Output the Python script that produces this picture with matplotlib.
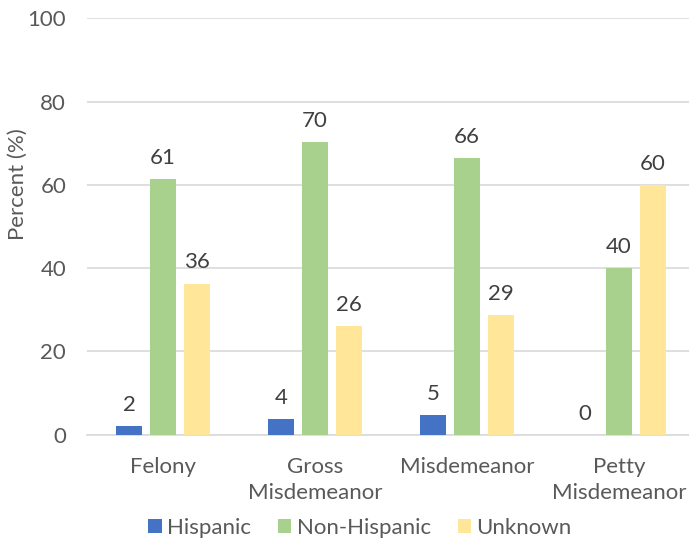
import matplotlib
matplotlib.use("Agg")
import matplotlib.pyplot as plt
import numpy as np

plt.rcParams['font.family'] = ['Lato', 'DejaVu Sans']

categories = ["Felony", "Gross\nMisdemeanor", "Misdemeanor", "Petty\nMisdemeanor"]
series_names = ["Hispanic", "Non-Hispanic", "Unknown"]
hispanic = [2.1, 3.7, 4.8, 0.0]
non_hispanic = [61.4, 70.3, 66.4, 40.0]
unknown = [36.3, 26.0, 28.8, 60.0]
y_ticks = [0, 20, 40, 60, 80, 100]

colors = ["#4472C4", "#A9D18E", "#FFE699"]
text_color = "#595959"
label_color = "#404040"
grid_color = "#D9D9D9"
fs = 16

W, H = 689, 545
fig = plt.figure(figsize=(W / 100, H / 100), dpi=100)
left, right, top, bottom = 87, 695, 18.3, 434.7
ax = fig.add_axes([left / W, 1 - bottom / H, (right - left) / W, (bottom - top) / H])

x = np.arange(len(categories))
bar_w = 0.174
step = 0.222
for i, (vals, name) in enumerate(zip([hispanic, non_hispanic, unknown], series_names)):
    pos = x + (i - 1) * step
    bars = ax.bar(pos, vals, width=bar_w, color=colors[i], label=name, zorder=3)
    for b, v in zip(bars, vals):
        ax.annotate(f"{v:.0f}", (b.get_x() + b.get_width() / 2, v),
                    xytext=(0, 8), textcoords="offset points",
                    ha="center", va="bottom", fontsize=fs, color=label_color)

ax.set_xlim(-0.5, len(categories) - 0.5)
ax.set_ylim(0, 100)
ax.set_yticks(y_ticks)
ax.yaxis.grid(True, color=grid_color, linewidth=1.2, zorder=0)
ax.set_axisbelow(True)
for s in ["left", "right", "top"]:
    ax.spines[s].set_visible(False)
ax.spines["bottom"].set_color(grid_color)
ax.spines["bottom"].set_linewidth(1.2)

ax.set_xticks(x)
ax.set_xticklabels(categories, fontsize=fs, color=text_color, linespacing=1.35)
ax.tick_params(axis="x", length=0, pad=16)
ax.tick_params(axis="y", length=0, pad=15, labelsize=fs, labelcolor=text_color)

ax.set_ylabel("Percent (%)", fontsize=fs, color=text_color)
ax.yaxis.set_label_coords(-0.097, 0.602)

fig.legend(loc="center", bbox_to_anchor=(360 / W, 1 - 528 / H), ncol=3, frameon=False,
           fontsize=fs, labelcolor=text_color, handlelength=0.6, handleheight=0.6,
           handletextpad=0.25, columnspacing=1.2, borderaxespad=0)

fig.savefig("out.png", dpi=100, facecolor="white")
